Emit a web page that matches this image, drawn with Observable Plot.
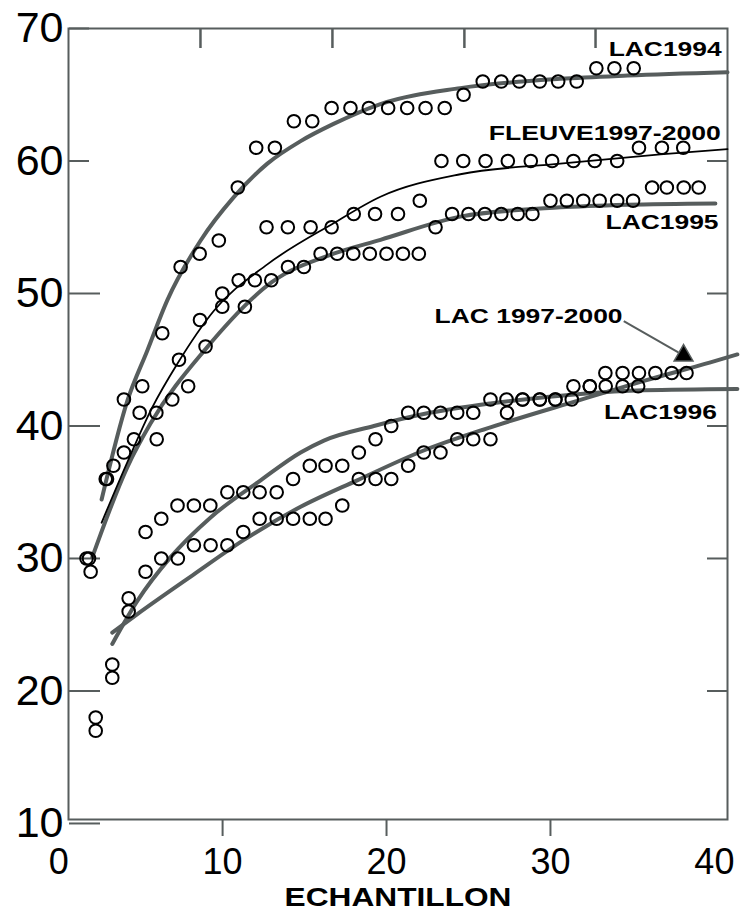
<!DOCTYPE html>
<html><head><meta charset="utf-8">
<script src="https://cdn.jsdelivr.net/npm/d3@7"></script>
<script src="https://cdn.jsdelivr.net/npm/@observablehq/plot@0.6"></script>
<style>
html,body{margin:0;padding:0;background:#fff;}
#chart svg{display:block;}
</style>
</head><body><div id="chart"></div>
<script>
// ---------- tick values ----------
const xTickLabels = [0, 10, 20, 30, 40];
const xTicksBottom = [10, 20, 30];
const xTicksTop = [8.65, 16.7, 24.75, 32.75];
const yTickLabels = [10, 20, 30, 40, 50, 60, 70];
const yTicksLong = [10, 20, 30, 40, 50];
const yTicksShort = [60, 70];
const yTicksRight = [20, 30, 40, 50, 60];
const xTitle = "ECHANTILLON";

// ---------- observed points ----------
const lac1994X = [1.7, 2.87, 3.98, 5.1, 6.32, 7.44, 8.6, 9.77, 10.93, 12.05, 13.19, 14.35, 15.47, 16.65, 17.8, 18.92, 20.1, 21.26, 22.38, 23.55, 24.7, 25.87, 27.0, 28.1, 29.35, 30.47, 31.6, 32.8, 33.9, 35.08];
const lac1994Y = [30, 36, 42, 43, 47, 52, 53, 54, 58, 61, 61, 63, 63, 64, 64, 64, 64, 64, 64, 64, 65, 66, 66, 66, 66, 66, 66, 67, 67, 67];

const fleuveX = [1.95, 3.34, 4.59, 5.96, 7.34, 8.62, 9.98, 11.36, 12.68, 13.98, 15.37, 16.65, 18.0, 19.3, 20.7, 22.03, 23.35, 24.68, 26.04, 27.4, 28.8, 30.1, 31.4, 32.7, 34.07, 35.4, 36.8, 38.1];
const fleuveY = [29, 37, 39, 41, 45, 48, 50, 49, 55, 55, 55, 55, 56, 56, 56, 57, 60, 60, 60, 60, 60, 60, 60, 60, 60, 61, 61, 61];

const lac1995X = [1.85, 2.95, 3.98, 4.94, 5.98, 6.93, 7.9, 8.96, 9.98, 10.98, 11.97, 12.97, 13.99, 14.96, 15.98, 16.99, 17.97, 18.98, 20.0, 21.0, 21.97, 22.99, 24.0, 25.0, 26.0, 27.0, 28.0, 28.9, 30.0, 31.0, 32.0, 33.0, 34.07, 35.04, 36.2, 37.1, 38.13, 39.04];
const lac1995Y = [30, 36, 38, 41, 39, 42, 43, 46, 49, 51, 51, 51, 52, 52, 53, 53, 53, 53, 53, 53, 53, 55, 56, 56, 56, 56, 56, 56, 57, 57, 57, 57, 57, 57, 58, 58, 58, 58];

const lac1996X = [2.26, 3.27, 4.27, 5.3, 6.26, 7.25, 8.25, 9.25, 10.29, 11.26, 12.26, 13.3, 14.3, 15.32, 16.28, 17.3, 18.31, 19.33, 20.29, 21.32, 22.27, 23.29, 24.31, 25.29, 26.34, 27.32, 28.3, 29.35, 30.3, 31.3, 32.4, 33.37, 34.4, 35.35];
const lac1996Y = [18, 22, 27, 32, 33, 34, 34, 34, 35, 35, 35, 35, 36, 37, 37, 37, 38, 39, 40, 41, 41, 41, 41, 41, 42, 42, 42, 42, 42, 42, 43, 43, 43, 43];

const lac9700X = [2.26, 3.27, 4.27, 5.3, 6.26, 7.27, 8.25, 9.27, 10.29, 11.26, 12.26, 13.3, 14.3, 15.32, 16.28, 17.3, 18.31, 19.33, 20.29, 21.32, 22.27, 23.29, 24.31, 25.29, 26.34, 27.35, 28.3, 29.35, 30.3, 31.4, 32.4, 33.35, 34.4, 35.4, 36.4, 37.4, 38.3];
const lac9700Y = [17, 21, 26, 29, 30, 30, 31, 31, 31, 32, 33, 33, 33, 33, 33, 34, 36, 36, 36, 37, 38, 38, 39, 39, 39, 41, 42, 42, 42, 43, 43, 44, 44, 44, 44, 44, 44];

// ---------- fitted curves ----------
const c1994X = [2.62, 4.19, 5.41, 6.63, 8.66, 10.67, 12.73, 14.76, 16.77, 19.63, 24.5, 30.6, 34.7, 40.8];
const c1994Y = [34.45, 41.9, 45.7, 49.5, 54.0, 57.25, 59.8, 61.5, 62.8, 64.3, 65.5, 66.2, 66.45, 66.7];

const cFleuveX = [2.62, 4.2, 5.71, 7.24, 9.47, 12.73, 16.77, 19.63, 24.5, 30.6, 36.7, 40.8];
const cFleuveY = [32.7, 37.3, 41.4, 44.7, 48.7, 52.2, 55.3, 57.3, 59.0, 59.8, 60.5, 60.9];

const c1995X = [2.05, 4.19, 5.61, 8.96, 13.0, 16.77, 19.63, 24.5, 30.6, 34.67, 40.06];
const c1995Y = [30.1, 36.9, 40.2, 45.8, 50.85, 53.0, 54.05, 55.8, 56.5, 56.7, 56.8];

const c1996X = [3.27, 4.8, 6.83, 9.27, 12.32, 14.76, 16.18, 19.23, 22.27, 26.34, 31.63, 35.7, 41.4];
const c1996Y = [23.55, 26.8, 30.1, 33.1, 35.9, 38.0, 38.9, 40.0, 40.9, 41.7, 42.4, 42.7, 42.8];

const c9700X = [3.27, 4.8, 8.25, 11.3, 14.76, 18.21, 22.27, 26.34, 31.63, 35.7, 39.76, 41.4];
const c9700Y = [24.4, 25.8, 28.8, 31.4, 33.9, 35.9, 38.15, 39.9, 41.9, 43.4, 44.8, 45.4];

// ---------- curve labels ----------
const labelText = ["LAC1994", "FLEUVE1997-2000", "LAC1995", "LAC 1997-2000", "LAC1996"];
const labelX = [33.55, 26.24, 33.36, 22.93, 33.26];
const labelY = [67.89, 61.6, 54.83, 47.79, 40.49];

// arrow from "LAC 1997-2000" label to its curve
const arrowFrom = [34.47, 47.91];
const arrowTo = [37.8, 45.55];
const arrowHead = [38.12, 45.32];

// ---------- styling ----------
const GRAY = "#575d5d";
const textWidths = {"LAC1994": 113, "FLEUVE1997-2000": 232, "LAC1995": 113, "LAC 1997-2000": 188, "LAC1996": 113, "ECHANTILLON": 227};

const rows = (name, xs, ys) => xs.map((x, i) => ({series: name, x, y: ys[i]}));
const points = [
  ...rows("LAC1994", lac1994X, lac1994Y),
  ...rows("FLEUVE1997-2000", fleuveX, fleuveY),
  ...rows("LAC1995", lac1995X, lac1995Y),
  ...rows("LAC1996", lac1996X, lac1996Y),
  ...rows("LAC 1997-2000", lac9700X, lac9700Y)
];
const grayCurves = [
  ...rows("LAC1994", c1994X, c1994Y),
  ...rows("LAC1995", c1995X, c1995Y),
  ...rows("LAC1996", c1996X, c1996Y),
  ...rows("LAC 1997-2000", c9700X, c9700Y)
];
const blackCurve = rows("FLEUVE1997-2000", cFleuveX, cFleuveY);
const labels = labelText.map((t, i) => ({text: t, x: labelX[i], y: labelY[i]}));

const chart = Plot.plot({
  width: 744,
  height: 909,
  marginLeft: 68, marginRight: 17, marginTop: 28, marginBottom: 90,
  style: {fontFamily: "'Liberation Sans', Arial, sans-serif", background: "#fff", color: "#000", overflow: "visible"},
  x: {domain: [0.6, 40.8]},
  y: {domain: [10.3, 70]},
  marks: [
    Plot.frame({stroke: GRAY, strokeWidth: 2}),
    // bottom ticks (outward)
    Plot.axisX({ticks: xTicksBottom, tickSize: 17, stroke: GRAY, strokeWidth: 2, fill: "none", label: null}),
    // bottom labels
    Plot.axisX({ticks: xTickLabels, tickSize: 0, tickPadding: 29, fill: "#000", fontSize: 36, tickFormat: d => String(d), label: null}),
    // top ticks (inward)
    Plot.axisX({anchor: "bottom", frameAnchor: "top", ticks: xTicksTop, tickSize: 20, stroke: GRAY, strokeWidth: 2.5, fill: "none", label: null}),
    // left ticks (inward)
    Plot.axisY({anchor: "right", frameAnchor: "left", ticks: yTicksLong, tickSize: 31, stroke: GRAY, strokeWidth: 2, fill: "none", label: null}),
    Plot.axisY({anchor: "right", frameAnchor: "left", ticks: yTicksShort, tickSize: 20, stroke: GRAY, strokeWidth: 2, fill: "none", label: null}),
    // right ticks (inward)
    Plot.axisY({anchor: "left", frameAnchor: "right", ticks: yTicksRight, tickSize: 20, stroke: GRAY, strokeWidth: 2, fill: "none", label: null}),
    // left labels
    Plot.axisY({ticks: yTickLabels, tickSize: 0, tickPadding: 5, fill: "#000", fontSize: 43, tickFormat: d => String(d), label: null}),
    // curves
    Plot.line(grayCurves, {x: "x", y: "y", z: "series", stroke: GRAY, strokeWidth: 4, curve: "monotone-x"}),
    Plot.line(blackCurve, {x: "x", y: "y", stroke: "#000", strokeWidth: 1.8, curve: "monotone-x"}),
    // points
    Plot.dot(points, {x: "x", y: "y", r: 6.3, stroke: "#000", strokeWidth: 2, fill: "none"}),
    // arrow
    Plot.link([{x1: arrowFrom[0], y1: arrowFrom[1], x2: arrowTo[0], y2: arrowTo[1]}], {x1: "x1", y1: "y1", x2: "x2", y2: "y2", stroke: GRAY, strokeWidth: 2}),
    Plot.dot([{x: arrowHead[0], y: arrowHead[1]}], {x: "x", y: "y", symbol: "triangle", r: 7, fill: "#000", stroke: GRAY, strokeWidth: 1.5}),
    // labels
    Plot.text(labels, {x: "x", y: "y", text: "text", textAnchor: "start", lineAnchor: "bottom", fontWeight: "bold", fontSize: 21, fill: "#000"}),
    Plot.text([xTitle], {text: d => d, frameAnchor: "bottom", dy: 86, lineAnchor: "bottom", fontWeight: "bold", fontSize: 25, fill: "#000"})
  ]
});

document.getElementById("chart").appendChild(chart);

d3.select(chart).selectAll("text").each(function () {
  const t = this.textContent;
  if (textWidths[t] !== undefined) {
    d3.select(this).attr("textLength", textWidths[t]).attr("lengthAdjust", "spacingAndGlyphs");
  }
});
</script></body></html>
